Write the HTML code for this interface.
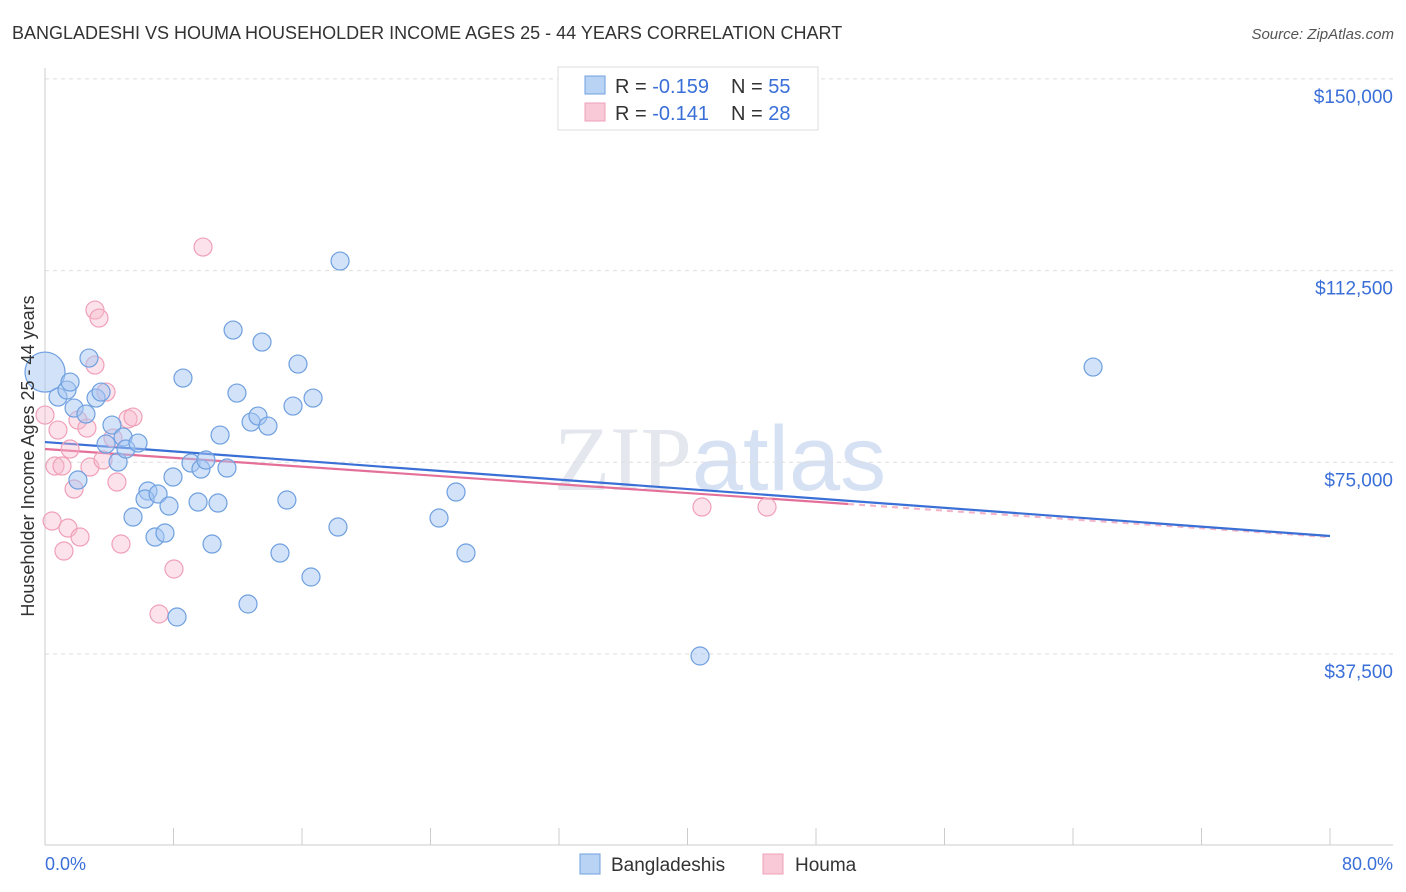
<!DOCTYPE html>
<html><head><meta charset="utf-8"><style>
body{margin:0;background:#fff;font-family:"Liberation Sans",sans-serif;}
svg{display:block}
</style></head><body>
<svg id="chart" width="1406" height="892" xmlns="http://www.w3.org/2000/svg">
<text x="12" y="39" font-size="18" fill="#333">BANGLADESHI VS HOUMA HOUSEHOLDER INCOME AGES 25 - 44 YEARS CORRELATION CHART</text>
<text x="1394" y="39" font-size="15" fill="#555" font-style="italic" text-anchor="end">Source: ZipAtlas.com</text>
<text x="720" y="490" font-size="92" fill="#e4e8ee" text-anchor="middle" font-family="Liberation Serif,serif">ZIP<tspan fill="#d6e2f4" font-family="Liberation Sans,sans-serif">atlas</tspan></text>
<g id="grid"></g>
<g id="axes"></g>
<g id="lines"></g>
<g id="points"></g>
<text transform="translate(34,456) rotate(-90)" font-size="18" fill="#333" text-anchor="middle">Householder Income Ages 25 - 44 years</text>
<text x="45" y="870" font-size="18" fill="#3a6fd8">0.0%</text>
<text x="1393" y="870" font-size="18" fill="#3a6fd8" text-anchor="end">80.0%</text>
<g>
<rect x="558" y="67" width="260" height="63" fill="#fff" stroke="#ddd"/>
<rect x="585" y="76" width="20" height="18" fill="#b9d3f5" stroke="#6fa0e0"/>
<rect x="585" y="103" width="20" height="18" fill="#f9c9d7" stroke="#f0a0b8"/>
<text x="615" y="93" font-size="20" fill="#333">R = <tspan fill="#3a6fd8">-0.159</tspan><tspan x="731">N = </tspan><tspan fill="#3a6fd8">55</tspan></text>
<text x="615" y="120" font-size="20" fill="#333">R = <tspan fill="#3a6fd8"> -0.141</tspan><tspan x="731">N = </tspan><tspan fill="#3a6fd8">28</tspan></text>
</g>
<g>
<rect x="580" y="854" width="20" height="20" fill="#b9d3f5" stroke="#6fa0e0"/>
<text x="611" y="871" font-size="19" fill="#333">Bangladeshis</text>
<rect x="763" y="854" width="20" height="20" fill="#f9c9d7" stroke="#f0a0b8"/>
<text x="795" y="871" font-size="19" fill="#333">Houma</text>
</g>
</svg>
<script>
const yTicks=[37500,75000,112500,150000];
const yTickLabels=["$37,500","$75,000","$112,500","$150,000"];
const xTicks=[0,8,16,24,32,40,48,56,64,72,80];
const blueX=[0,0.81,1.37,1.56,1.81,2.55,2.74,3.18,3.49,2.05,4.17,3.80,4.55,4.86,5.04,5.79,5.48,6.41,6.23,7.04,6.85,7.47,7.72,7.97,8.22,8.59,9.09,9.53,9.71,10.02,10.40,10.77,10.90,11.33,11.71,11.95,12.64,12.83,13.26,13.51,13.88,14.63,15.06,15.44,15.75,16.56,16.69,18.24,18.37,24.53,25.59,26.21,40.78,65.25];
const blueY=[92656,87766,89135,90700,85614,84441,95394,87570,88744,71531,82289,78573,75052,79942,77595,78768,64294,69379,67815,68793,60382,61164,66445,72118,44734,91482,74856,67228,73683,75443,59013,67032,80333,73878,100871,88548,47277,82876,84049,98524,82093,57252,67619,86005,94221,52558,87570,62338,114367,64098,69184,57252,37105,93634];
const pinkX=[0,0.44,0.62,0.81,1.06,1.18,1.43,1.56,1.81,2.05,2.18,2.61,2.80,3.11,3.11,3.36,3.61,3.80,4.23,4.48,4.73,5.17,5.48,7.10,8.03,9.84,40.90,44.95];
const pinkY=[84245,63511,74269,81311,74269,57643,62142,77595,69771,83267,60382,81702,74074,104783,94025,103218,75443,88744,79746,71140,59013,83463,83854,45321,54123,117106,66250,66250];
const blueTrend=[[0,78964],[80,60577]];
const pinkTrend=[[0,77595],[50,66837]];
const pinkTrendExt=[[50,66837],[80,60382]];
const NS="http://www.w3.org/2000/svg";
const X=v=>45+v/80*1285;
const Y=v=>845.7-v/37500*191.7;
function mk(tag,attrs,parent){const e=document.createElementNS(NS,tag);for(const k in attrs)e.setAttribute(k,attrs[k]);document.getElementById(parent).appendChild(e);return e;}
yTicks.forEach((t,i)=>{
 const l=mk('line',{x1:45,x2:1393,y1:Y(t),y2:Y(t),stroke:'#ddd','stroke-dasharray':'4,4'},'grid');
 
 
 const tx=mk('text',{x:1393,y:Y(t)+24,'font-size':19,fill:'#3a6fd8','text-anchor':'end'},'grid');
 tx.textContent=yTickLabels[i];
 
 
});
const ax=mk('line',{x1:45,x2:45,y1:68,y2:845,stroke:'#ccc'},'axes');


const bx=mk('line',{x1:45,x2:1393,y1:845,y2:845,stroke:'#ccc'},'axes');


xTicks.forEach(t=>{
 const l=mk('line',{x1:X(t),x2:X(t),y1:828,y2:845,stroke:'#ccc'},'axes');
 
 
});
function pts(xs,ys,fill,stroke,name){
 xs.forEach((x,i)=>{
  const r=(name==='bangladeshi-point'&&i===0)?20:9;
  const c=mk('circle',{cx:X(x),cy:Y(ys[i]),r:r,fill:fill,stroke:stroke,'stroke-width':1.2},'points');
  
  
 });
}
pts(pinkX,pinkY,'rgba(248,185,205,0.4)','#f0a0b8','houma-point');
pts(blueX,blueY,'rgba(165,198,242,0.5)','#6fa0e0','bangladeshi-point');
function ln(p,color,name,dash){
 const l=mk('line',{x1:X(p[0][0]),y1:Y(p[0][1]),x2:X(p[1][0]),y2:Y(p[1][1]),stroke:color,'stroke-width':2.2},'lines');
 if(dash)l.setAttribute('stroke-dasharray',dash);
 
 
}
ln(pinkTrendExt,'#f4b5c8','houma-trend-extension','6,5');
ln(blueTrend,'#3a70d6','bangladeshi-trend-line');
ln(pinkTrend,'#e4709a','houma-trend-line');
</script>
</body></html>
